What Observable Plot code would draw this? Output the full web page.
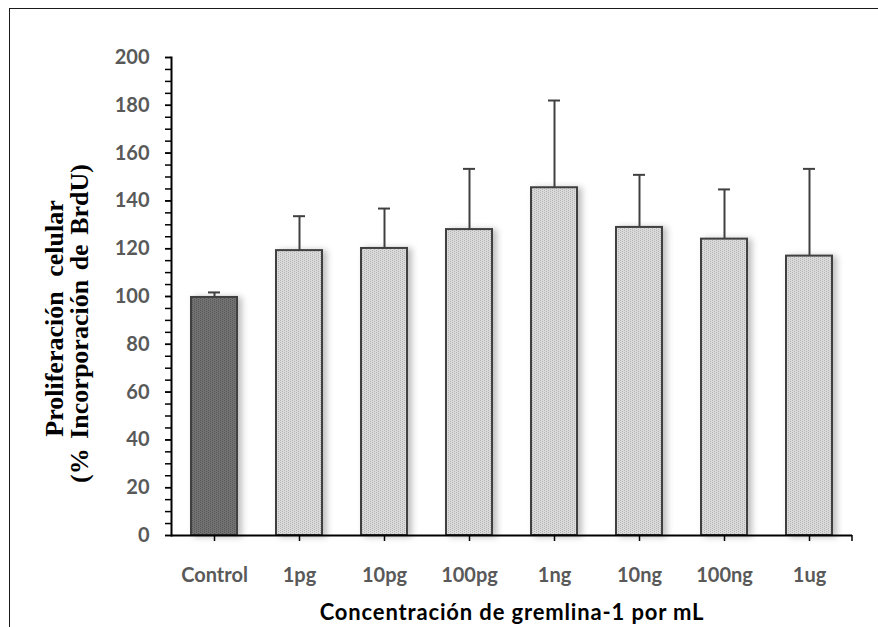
<!DOCTYPE html>
<html>
<head>
<meta charset="utf-8">
<script src="https://cdn.jsdelivr.net/npm/d3@7"></script>
<script src="https://cdn.jsdelivr.net/npm/@observablehq/plot@0.6"></script>
<style>
  html, body { margin: 0; padding: 0; background: #fff; }
  #wrap { position: relative; width: 878px; height: 627px; overflow: hidden; }
  #border { position: absolute; left: 9px; top: 8px; right: -10px; bottom: -10px;
            border-left: 1.5px solid #1a1a1a; border-top: 1.5px solid #1a1a1a; pointer-events: none; }
  .bars rect { filter: drop-shadow(4px 1px 3px rgba(0,0,0,0.25)); }
  .xtitle text { letter-spacing: 0.85px; }
  .ytitle1 text { word-spacing: 8px; }
  .ytitle2 text { word-spacing: 3px; }
</style>
</head>
<body>
<div id="wrap"><div id="border"></div></div>
<script>
const categories = ["Control", "1pg", "10pg", "100pg", "1ng", "10ng", "100ng", "1ug"];
const means = [99.6, 119.2, 120.1, 128.0, 145.5, 128.9, 124.0, 116.9];
const errors = [2.1, 14.4, 16.7, 25.4, 36.5, 22.0, 20.8, 36.5];
const yTicks = [0, 20, 40, 60, 80, 100, 120, 140, 160, 180, 200];
const yMinorTicks = d3.range(0, 201, 5);
const xTitle = "Concentración de gremlina-1 por mL";
const yTitle1 = "Proliferación celular";
const yTitle2 = "(% Incorporación de BrdU)";

const data = categories.map((c, i) => ({cat: c, mean: means[i], upper: means[i] + errors[i]}));
const controlData = data.filter(d => d.cat === "Control");
const treatedData = data.filter(d => d.cat !== "Control");

const font = "Lato, 'Open Sans', sans-serif";
const serif = "'Liberation Serif', 'Times New Roman', serif";

const plot = Plot.plot({
  width: 878,
  height: 627,
  marginLeft: 171,
  marginRight: 26,
  marginTop: 57,
  marginBottom: 92,
  style: {fontFamily: font, background: "transparent", overflow: "visible"},
  x: {domain: categories, paddingInner: 0.46, paddingOuter: 0.23},
  y: {domain: [0, 200]},
  marks: [
    Plot.barY(controlData, {x: "cat", y: "mean", fill: "url(#patDark)",
      stroke: "#404040", strokeWidth: 2, className: "bars"}),
    Plot.barY(treatedData, {x: "cat", y: "mean", fill: "url(#patLight)",
      stroke: "#404040", strokeWidth: 2, className: "bars"}),
    Plot.ruleX(data, {x: "cat", y1: "mean", y2: "upper", stroke: "#404040", strokeWidth: 2}),
    Plot.tickY(data, {x: "cat", y: "upper", stroke: "#404040", strokeWidth: 2, insetLeft: 17, insetRight: 17}),
    Plot.axisY(yMinorTicks, {tickSize: 6, tickFormat: () => "", stroke: "#000", strokeWidth: 1.5, label: null}),
    Plot.axisY(yTicks, {tickSize: 6, tickPadding: 16, stroke: "#000", strokeWidth: 1.5,
      fill: "#595959", fontSize: 20, fontWeight: "bold", label: null}),
    Plot.axisX({tickSize: 6, tickPadding: 26, stroke: "#000", strokeWidth: 1.5,
      fill: "#595959", fontSize: 20, fontWeight: "bold", label: null}),
    Plot.frame({anchor: "left", stroke: "#000", strokeWidth: 2}),
    Plot.ruleY([0], {stroke: "#000", strokeWidth: 2}),
    // end tick at the right end of the x axis
    (index, scales, values, dim) => {
      const x = dim.width - dim.marginRight;
      const y = dim.height - dim.marginBottom;
      const l = document.createElementNS("http://www.w3.org/2000/svg", "line");
      l.setAttribute("x1", x); l.setAttribute("x2", x);
      l.setAttribute("y1", y); l.setAttribute("y2", y + 6);
      l.setAttribute("stroke", "#000"); l.setAttribute("stroke-width", 1.5);
      return l;
    },
    Plot.text([xTitle], {frameAnchor: "bottom", dy: 84, fill: "#000", fontSize: 22,
      fontWeight: "bold", className: "xtitle"}),
    Plot.text([yTitle1], {frameAnchor: "left", textAnchor: "middle", dx: -117, dy: 22, rotate: -90,
      fill: "#000", fontSize: 26, fontWeight: "bold", fontFamily: serif, className: "ytitle1"}),
    Plot.text([yTitle2], {frameAnchor: "left", textAnchor: "middle", dx: -92, dy: 27, rotate: -90,
      fill: "#000", fontSize: 26, fontWeight: "bold", fontFamily: serif, className: "ytitle2"})
  ]
});

// stipple fill patterns for the bars
const ns = "http://www.w3.org/2000/svg";
const defs = document.createElementNS(ns, "defs");
function makePattern(id, base, dot) {
  const p = document.createElementNS(ns, "pattern");
  p.setAttribute("id", id);
  p.setAttribute("width", 4); p.setAttribute("height", 4);
  p.setAttribute("patternUnits", "userSpaceOnUse");
  const bg = document.createElementNS(ns, "rect");
  bg.setAttribute("width", 4); bg.setAttribute("height", 4); bg.setAttribute("fill", base);
  p.appendChild(bg);
  [[0, 0], [2, 1], [0, 2], [2, 3]].forEach(([x, y]) => {
    const r = document.createElementNS(ns, "rect");
    r.setAttribute("x", x); r.setAttribute("y", y);
    r.setAttribute("width", 1); r.setAttribute("height", 1); r.setAttribute("fill", dot);
    p.appendChild(r);
  });
  defs.appendChild(p);
}
makePattern("patLight", "#dadada", "#b4b4b4");
makePattern("patDark", "#727272", "#585858");
plot.insertBefore(defs, plot.firstChild);

document.getElementById("wrap").prepend(plot);
</script>
</body>
</html>
